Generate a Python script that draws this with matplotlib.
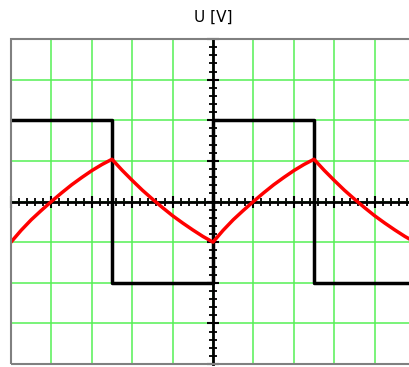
import matplotlib.pyplot as plt
from matplotlib.patches import Rectangle
from matplotlib.ticker import MultipleLocator

# square wave: level held from each time until the next one
square_t = [-5, -2.5, 0, 2.5, 5]
square_u = [2, -2, 2, -2, -2]

# capacitor voltage, read every quarter division over one period
rise_u = [-1.0, -0.71, -0.45, -0.22, 0.0, 0.21, 0.41, 0.59, 0.76, 0.91, 1.04]
fall_u = [1.04, 0.77, 0.52, 0.28, 0.06, -0.15, -0.35, -0.53, -0.70, -0.86, -1.0]
period_t = [0.25 * i for i in range(21)]  # 0 .. 5 divisions
cap_u_period = rise_u + fall_u[1:]

cap_t = [t - 5 for t in period_t] + [t for t in period_t[1:]]
cap_u = cap_u_period + cap_u_period[1:]

green = '#55f055'

fig = plt.figure(figsize=(4.09, 3.67), dpi=100)
ax = fig.add_axes([11 / 409, 3 / 367, 404 / 409, 325 / 367])

ax.set_xlim(-5, 5)
ax.set_ylim(-4, 4)

ax.xaxis.set_major_locator(MultipleLocator(1))
ax.yaxis.set_major_locator(MultipleLocator(1))
ax.xaxis.set_minor_locator(MultipleLocator(0.2))
ax.yaxis.set_minor_locator(MultipleLocator(0.2))
ax.grid(which='major', color=green, linewidth=1.1)
ax.set_axisbelow(True)

# screen axes through the centre
ax.spines['left'].set_position(('data', 0))
ax.spines['bottom'].set_position(('data', 0))
for side in ['left', 'bottom']:
    ax.spines[side].set_linewidth(2)
    ax.spines[side].set_color('black')
for side in ['top', 'right']:
    ax.spines[side].set_visible(False)
ax.tick_params(which='major', direction='inout', length=8, width=1.5,
               labelleft=False, labelbottom=False)
ax.tick_params(which='minor', direction='inout', length=6, width=1.3)

# outer frame
ax.add_patch(Rectangle((0, 0), 1, 1, transform=ax.transAxes, fill=False,
                       edgecolor='#808080', linewidth=1.5, clip_on=False, zorder=4))

ax.plot(square_t, square_u, drawstyle='steps-post', color='black',
        linewidth=2.5, zorder=3)
ax.plot(cap_t, cap_u, color='#ff0000', linewidth=2.5, zorder=3)

fig.text(213 / 409, 1 - 17 / 367, 'U [V]', ha='center', va='center', fontsize=11)

fig.savefig('out.png', dpi=100)
